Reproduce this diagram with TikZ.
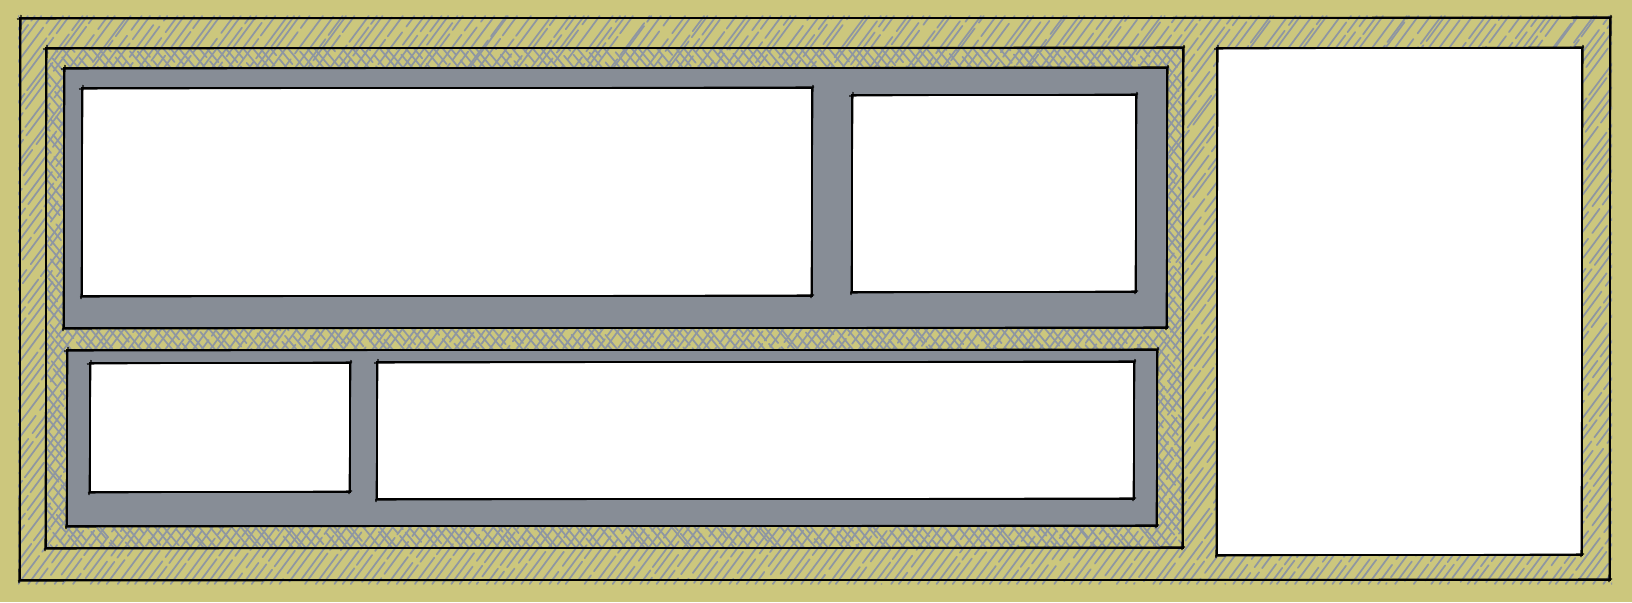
\documentclass[tikz,border=0pt]{standalone}
\definecolor{olive}{HTML}{CCC77D}
\definecolor{slate}{HTML}{878D96}
\definecolor{hatchc}{HTML}{8E96A2}
\tikzset{
  hatch/.style={draw=hatchc, line width=1.7pt, line cap=round,
    dash pattern=on 70pt off 5pt on 40pt off 7pt on 55pt off 4pt},
  ink/.style={draw=black, line width=2.9pt, line join=miter},
  inkthin/.style={draw=black, line width=1.1pt},
}
% sketchy rectangle: #1=x1 #2=y1 #3=x2 #4=y2
\newcommand{\skrect}[4]{%
  \draw[ink] (#1,#2) -- (#3,#2) -- (#3,#4) -- (#1,#4) -- cycle;
  \draw[inkthin] ({#1-3},{#2+1}) -- ({#3+2},{#2-1});
  \draw[inkthin] ({#3+1},{#2-3}) -- ({#3-1},{#4+2});
  \draw[inkthin] ({#3+2},{#4-1}) -- ({#1-2},{#4+1});
  \draw[inkthin] ({#1-1},{#4+3}) -- ({#1+1},{#2-3});
}
\begin{document}
\begin{tikzpicture}[x=1pt,y=-1pt]
\pgfmathsetseed{7}
\useasboundingbox (0,0) rectangle (1632,602);
\fill[olive] (0,0) rectangle (1632,602);
% outer hatching
\begin{scope}
  \clip (18,16) rectangle (1612,584);
  \foreach \i in {-48,...,180} {
    \pgfmathsetmacro{\jx}{rand*1.5}
    \pgfmathsetmacro{\jd}{rand*4}
    \pgfmathsetmacro{\ph}{(rand+1)*80}
    \draw[hatch, dash phase=\ph] ({\i*9+\jx},584) -- ++({421+\jd},-568);
  }
\end{scope}
% inner cross hatching
\begin{scope}
  \clip (46,48) rectangle (1183,548);
  \foreach \i in {-48,...,132} {
    \pgfmathsetmacro{\jx}{rand*1.5}
    \pgfmathsetmacro{\jd}{rand*4}
    \pgfmathsetmacro{\ph}{(rand+1)*80}
    \draw[hatch, dash phase=\ph] ({\i*9+\jx},48) -- ++({417+\jd},500);
  }
\end{scope}
% gray boxes
\fill[slate] (64,68) rectangle (1167,328);
\fill[slate] (67,350) rectangle (1157,526);
% white boxes
\fill[white] (82,88) rectangle (812,296);
\fill[white] (852,95) rectangle (1136,292);
\fill[white] (90,363) rectangle (350,492);
\fill[white] (377,362) rectangle (1134,499);
\fill[white] (1217,48) rectangle (1582,555);
% outlines
\skrect{20}{18}{1610}{580}
\skrect{46}{48}{1183}{548}
\skrect{64}{68}{1167}{328}
\skrect{67}{350}{1157}{526}
\skrect{82}{88}{812}{296}
\skrect{852}{95}{1136}{292}
\skrect{90}{363}{350}{492}
\skrect{377}{362}{1134}{499}
\skrect{1217}{48}{1582}{555}
\end{tikzpicture}
\end{document}
